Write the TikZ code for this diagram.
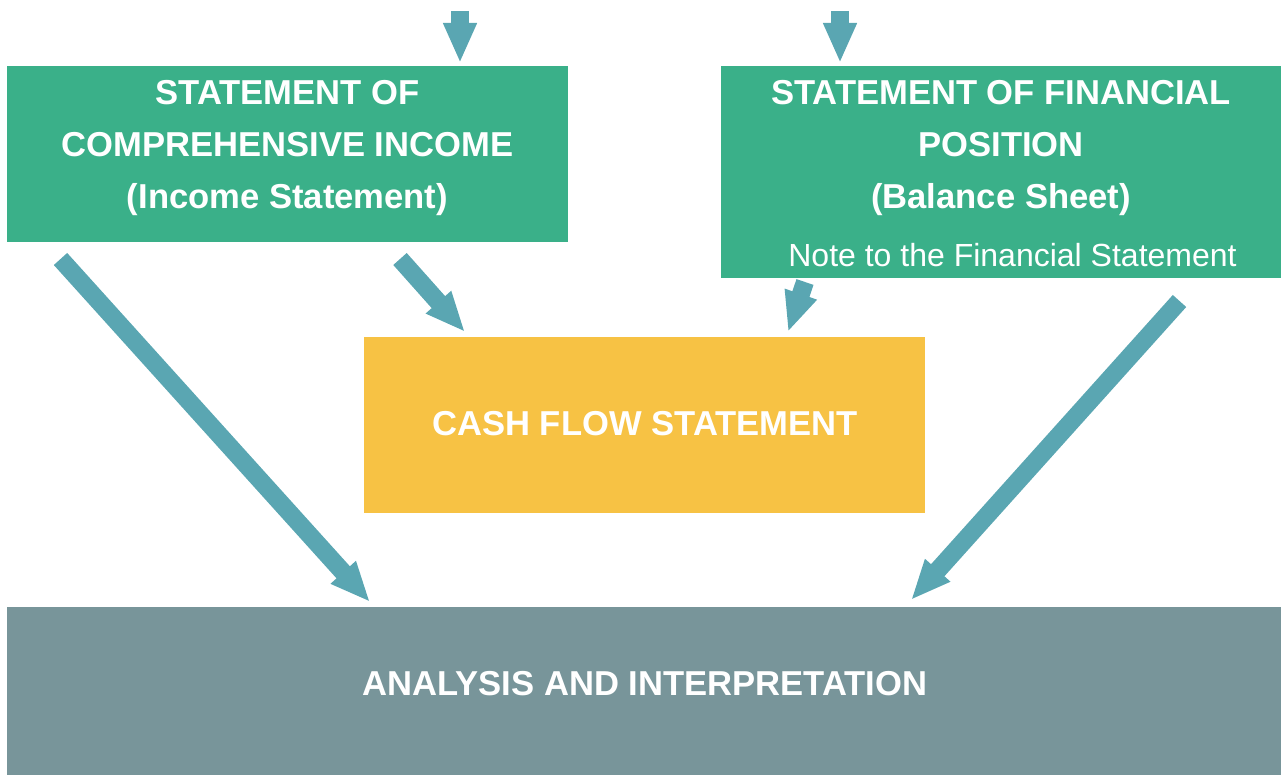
\documentclass[tikz,border=0pt]{standalone}
\usepackage{fontspec}
\setmainfont{Liberation Sans}
\usetikzlibrary{arrows.meta}
\definecolor{boxgreen}{HTML}{3AB089}
\definecolor{boxyellow}{HTML}{F7C244}
\definecolor{boxgrey}{HTML}{78959A}
\definecolor{arrowc}{HTML}{5AA6B2}
\tikzset{
  panel/.style={draw=none, inner sep=0pt, anchor=north west},
  greenbox/.style={panel, fill=boxgreen},
  yellowbox/.style={panel, fill=boxyellow},
  greybox/.style={panel, fill=boxgrey},
  title/.style={text=white, align=center, inner sep=0pt, font=\bfseries\fontsize{34.6}{52}\selectfont},
  note/.style={text=white, inner sep=0pt, font=\fontsize{32}{38}\selectfont},
  blockarr/.style={draw=arrowc, line width=18pt, line cap=butt, -{Triangle[length=40pt,width=31pt]}}
}
\begin{document}
\begin{tikzpicture}[x=1pt,y=-1pt]
\useasboundingbox (0,0) rectangle (1281,775);
% boxes
\node[greenbox, minimum width=561pt, minimum height=176pt] (inc) at (7,66) {};
\node[greenbox, minimum width=560pt, minimum height=212pt] (bal) at (721,66) {};
\node[yellowbox, minimum width=561pt, minimum height=176pt] (cash) at (364,337) {};
\node[greybox, minimum width=1274pt, minimum height=168pt] (ana) at (7,607) {};
% texts
\node[title] (inct) at (287.5,148) {STATEMENT OF\\COMPREHENSIVE INCOME\\(Income Statement)};
\node[title] (balt) at (1001,148) {STATEMENT OF FINANCIAL\\POSITION\\(Balance Sheet)};
\node[note] (notet) at (1012.5,255) {Note to the Financial Statement};
\node[title] (casht) at (645,424) {CASH FLOW STATEMENT};
\node[title] (anat) at (645,684) {ANALYSIS AND INTERPRETATION};
% arrow end points
\coordinate (t1s) at (460,11);
\coordinate (t1e) at (460,63);
\coordinate (t2s) at (840,11);
\coordinate (t2e) at (840,63);
\coordinate (d1s) at (60.5,259);
\coordinate (d1e) at (370,602);
\coordinate (d2s) at (400,259);
\coordinate (d2e) at (465,332);
\coordinate (d3s) at (805,282);
\coordinate (d3e) at (788,332);
\coordinate (d4s) at (1179.5,301);
\coordinate (d4e) at (911,600);
% arrows
\draw[blockarr] (t1s) -- (t1e);
\draw[blockarr] (t2s) -- (t2e);
\draw[blockarr] (d1s) -- (d1e);
\draw[blockarr] (d2s) -- (d2e);
\draw[blockarr] (d3s) -- (d3e);
\draw[blockarr] (d4s) -- (d4e);
\end{tikzpicture}
\end{document}
